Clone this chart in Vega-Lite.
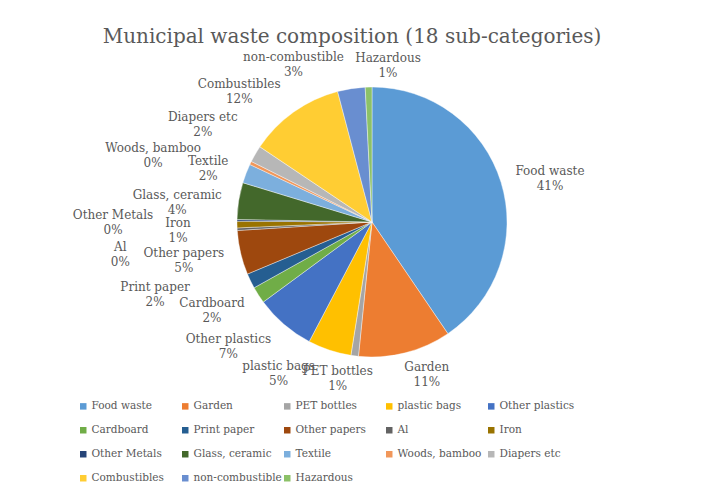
{
  "$schema": "https://vega.github.io/schema/vega-lite/v6.json",
  "autosize": {"type": "none"},
  "width": 690,
  "height": 444,
  "padding": {"left": 27, "top": 0, "right": 0, "bottom": 44},
  "background": "white",
  "title": {
    "text": "Municipal waste composition (18 sub-categories)",
    "font": "DejaVu Serif",
    "fontSize": 20,
    "fontWeight": "normal",
    "color": "#595959",
    "frame": "group",
    "anchor": "middle",
    "offset": -95,
    "dx": -20
  },
  "config": {
    "view": {"stroke": null},
    "text": {"font": "DejaVu Serif", "fontSize": 12, "color": "#595959", "lineBreak": "\n", "lineHeight": 15, "align": "center", "baseline": "middle"},
    "legend": {
      "orient": "none",
      "direction": "horizontal",
      "legendX": 51,
      "legendY": 401,
      "padding": 0,
      "columns": 5,
      "gridAlign": "all",
      "columnPadding": 0,
      "rowPadding": 13,
      "symbolType": "square",
      "symbolSize": 42,
      "symbolStrokeWidth": 0,
      "labelFont": "DejaVu Serif",
      "labelFontSize": 10.5,
      "labelColor": "#595959",
      "labelOffset": 3,
      "labelLimit": 200
    }
  },
  "data": {
    "values": [
      {"idx": 1, "cat": "Food waste", "value": 40.5, "label": "Food waste\n41%"},
      {"idx": 2, "cat": "Garden", "value": 11.1, "label": "Garden\n11%"},
      {"idx": 3, "cat": "PET bottles", "value": 0.9, "label": "PET bottles\n1%"},
      {"idx": 4, "cat": "plastic bags", "value": 5.2, "label": "plastic bags\n5%"},
      {"idx": 5, "cat": "Other plastics", "value": 7.2, "label": "Other plastics\n7%"},
      {"idx": 6, "cat": "Cardboard", "value": 2.0, "label": "Cardboard\n2%"},
      {"idx": 7, "cat": "Print paper", "value": 1.8, "label": "Print paper\n2%"},
      {"idx": 8, "cat": "Other papers", "value": 5.3, "label": "Other papers\n5%"},
      {"idx": 9, "cat": "Al", "value": 0.3, "label": "Al\n0%"},
      {"idx": 10, "cat": "Iron", "value": 0.8, "label": "Iron\n1%"},
      {"idx": 11, "cat": "Other Metals", "value": 0.2, "label": "Other Metals\n0%"},
      {"idx": 12, "cat": "Glass, ceramic", "value": 4.4, "label": "Glass, ceramic\n4%"},
      {"idx": 13, "cat": "Textile", "value": 2.3, "label": "Textile\n2%"},
      {"idx": 14, "cat": "Woods, bamboo", "value": 0.4, "label": "Woods, bamboo\n0%"},
      {"idx": 15, "cat": "Diapers etc", "value": 2.0, "label": "Diapers etc\n2%"},
      {"idx": 16, "cat": "Combustibles", "value": 11.5, "label": "Combustibles\n12%"},
      {"idx": 17, "cat": "non-combustible", "value": 3.3, "label": "non-combustible\n3%"},
      {"idx": 18, "cat": "Hazardous", "value": 0.8, "label": "Hazardous\n1%"}
    ]
  },
  "encoding": {
    "theta": {"field": "value", "type": "quantitative", "stack": true},
    "order": {"field": "idx", "type": "quantitative"}
  },
  "layer": [
    {
      "mark": {"type": "arc", "outerRadius": 135, "stroke": "#ffffff", "strokeWidth": 0.4},
      "encoding": {
        "color": {
          "field": "cat",
          "type": "nominal",
          "title": null,
          "scale": {
            "domain": ["Food waste", "Garden", "PET bottles", "plastic bags", "Other plastics", "Cardboard", "Print paper", "Other papers", "Al", "Iron", "Other Metals", "Glass, ceramic", "Textile", "Woods, bamboo", "Diapers etc", "Combustibles", "non-combustible", "Hazardous"],
            "range": ["#5B9BD5", "#ED7D31", "#A5A5A5", "#FFC000", "#4472C4", "#70AD47", "#255E91", "#9E480E", "#636363", "#997300", "#264478", "#43682B", "#7CAFDD", "#F1975A", "#B7B7B7", "#FFCD33", "#698ED0", "#8CC168"]
          }
        }
      }
    },
    {"mark": {"type": "text", "radius": 182, "dx": 4, "dy": 3}, "encoding": {"text": {"field": "label"}, "opacity": {"condition": {"test": "datum.cat === 'Food waste'", "value": 1}, "value": 0}}},
    {"mark": {"type": "text", "radius": 150, "dx": 18, "dy": 0}, "encoding": {"text": {"field": "label"}, "opacity": {"condition": {"test": "datum.cat === 'Garden'", "value": 1}, "value": 0}}},
    {"mark": {"type": "text", "radius": 150, "dx": -15, "dy": 0}, "encoding": {"text": {"field": "label"}, "opacity": {"condition": {"test": "datum.cat === 'PET bottles'", "value": 1}, "value": 0}}},
    {"mark": {"type": "text", "radius": 160, "dx": -43, "dy": -8}, "encoding": {"text": {"field": "label"}, "opacity": {"condition": {"test": "datum.cat === 'plastic bags'", "value": 1}, "value": 0}}},
    {"mark": {"type": "text", "radius": 182, "dx": -25, "dy": -21}, "encoding": {"text": {"field": "label"}, "opacity": {"condition": {"test": "datum.cat === 'Other plastics'", "value": 1}, "value": 0}}},
    {"mark": {"type": "text", "radius": 182, "dx": -7, "dy": -17}, "encoding": {"text": {"field": "label"}, "opacity": {"condition": {"test": "datum.cat === 'Cardboard'", "value": 1}, "value": 0}}},
    {"mark": {"type": "text", "radius": 229, "dx": -11, "dy": -35}, "encoding": {"text": {"field": "label"}, "opacity": {"condition": {"test": "datum.cat === 'Print paper'", "value": 1}, "value": 0}}},
    {"mark": {"type": "text", "radius": 182, "dx": -11, "dy": -10}, "encoding": {"text": {"field": "label"}, "opacity": {"condition": {"test": "datum.cat === 'Other papers'", "value": 1}, "value": 0}}},
    {"mark": {"type": "text", "radius": 250, "dx": -2, "dy": 12}, "encoding": {"text": {"field": "label"}, "opacity": {"condition": {"test": "datum.cat === 'Al'", "value": 1}, "value": 0}}},
    {"mark": {"type": "text", "radius": 190, "dx": -4, "dy": -3}, "encoding": {"text": {"field": "label"}, "opacity": {"condition": {"test": "datum.cat === 'Iron'", "value": 1}, "value": 0}}},
    {"mark": {"type": "text", "radius": 260, "dx": 1, "dy": -4}, "encoding": {"text": {"field": "label"}, "opacity": {"condition": {"test": "datum.cat === 'Other Metals'", "value": 1}, "value": 0}}},
    {"mark": {"type": "text", "radius": 182, "dx": -15, "dy": 1}, "encoding": {"text": {"field": "label"}, "opacity": {"condition": {"test": "datum.cat === 'Glass, ceramic'", "value": 1}, "value": 0}}},
    {"mark": {"type": "text", "radius": 182, "dx": 6, "dy": 4}, "encoding": {"text": {"field": "label"}, "opacity": {"condition": {"test": "datum.cat === 'Textile'", "value": 1}, "value": 0}}},
    {"mark": {"type": "text", "radius": 200, "dx": -39, "dy": 13}, "encoding": {"text": {"field": "label"}, "opacity": {"condition": {"test": "datum.cat === 'Woods, bamboo'", "value": 1}, "value": 0}}},
    {"mark": {"type": "text", "radius": 182, "dx": -12, "dy": -13}, "encoding": {"text": {"field": "label"}, "opacity": {"condition": {"test": "datum.cat === 'Diapers etc'", "value": 1}, "value": 0}}},
    {"mark": {"type": "text", "radius": 172, "dx": -33, "dy": 2}, "encoding": {"text": {"field": "label"}, "opacity": {"condition": {"test": "datum.cat === 'Combustibles'", "value": 1}, "value": 0}}},
    {"mark": {"type": "text", "radius": 160, "dx": -54, "dy": -7}, "encoding": {"text": {"field": "label"}, "opacity": {"condition": {"test": "datum.cat === 'non-combustible'", "value": 1}, "value": 0}}},
    {"mark": {"type": "text", "radius": 160, "dx": 20, "dy": -4}, "encoding": {"text": {"field": "label"}, "opacity": {"condition": {"test": "datum.cat === 'Hazardous'", "value": 1}, "value": 0}}}
  ]
}
